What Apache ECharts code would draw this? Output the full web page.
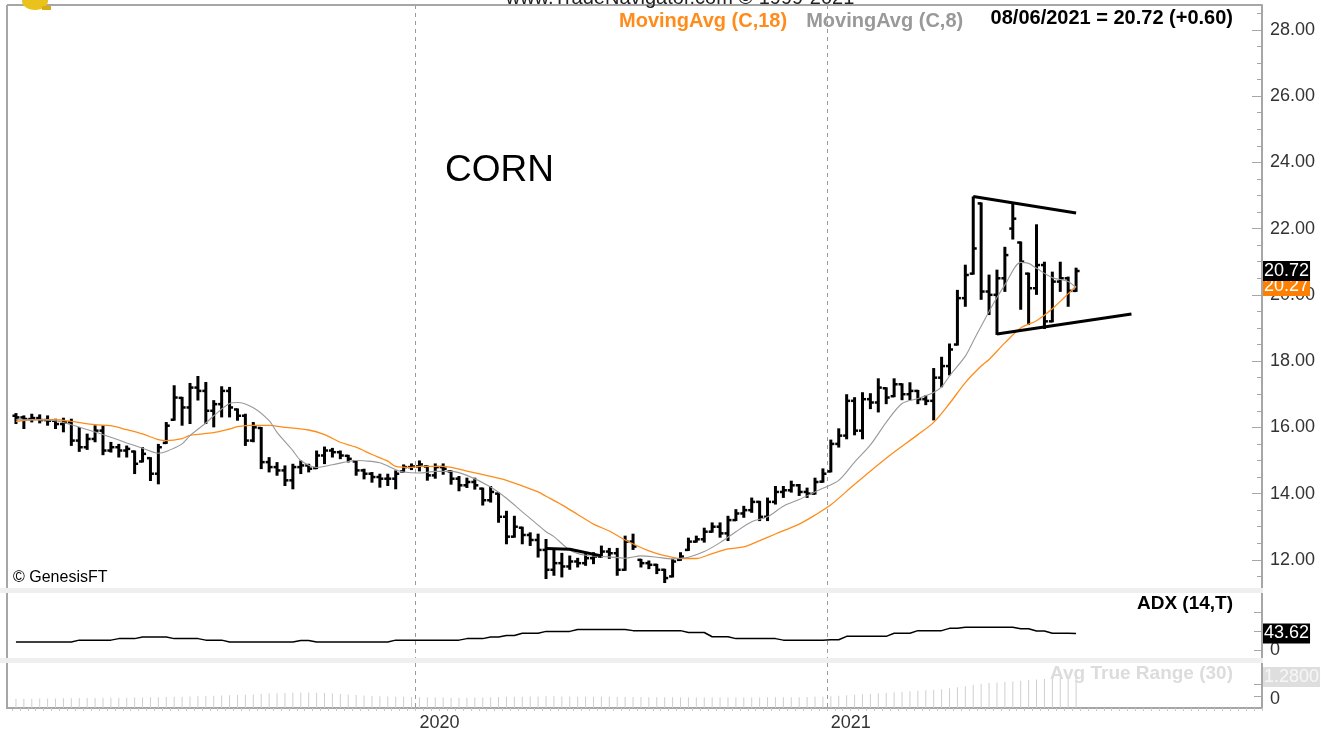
<!DOCTYPE html>
<html>
<head>
<meta charset="utf-8">
<script src="https://cdn.jsdelivr.net/npm/echarts@6/dist/echarts.min.js"></script>
<style>
html, body { margin: 0; padding: 0; background: #fff; }
#cornChart { width: 1338px; height: 738px; }
</style>
</head>
<body>
<div id="cornChart"></div>
<script>
// weekly bars, first week ending 2019-01-11
const firstWeek = '2019-01-11'
const weekCount = 158 // axis runs a few months past the last bar
const yearLabels = ['2020', '2021']
const priceTicks = [12, 14, 16, 18, 20, 22, 24, 26, 28]

// [open, high, low, close]
const ohlc = [
	[16.35,16.40,16.13,16.30],[16.30,16.33,15.98,16.25],[16.25,16.38,16.18,16.28],[16.28,16.36,16.15,16.22],
	[16.22,16.33,16.08,16.20],[16.20,16.23,15.98,16.10],[16.10,16.26,15.88,16.15],[16.15,16.23,15.47,15.60],
	[15.60,15.98,15.29,15.40],[15.40,15.78,15.35,15.65],[15.65,16.03,15.58,15.90],[15.90,16.03,15.19,15.30],
	[15.30,15.53,15.27,15.40],[15.40,15.47,15.12,15.30],[15.30,15.42,15.12,15.35],[15.27,15.27,14.62,14.90],
	[14.97,15.37,14.97,15.20],[15.07,15.07,14.41,14.60],[14.60,15.47,14.31,15.40],[15.53,16.13,15.53,16.05],
	[16.23,17.24,16.23,16.90],[16.89,16.89,16.08,16.60],[16.60,17.31,16.13,17.20],[17.20,17.52,16.84,17.10],
	[17.10,17.34,16.13,16.50],[16.50,16.79,16.03,16.70],[16.70,17.21,16.33,17.10],[17.10,17.19,16.33,16.60],
	[16.54,16.54,16.23,16.35],[16.35,16.38,15.47,15.60],[15.60,16.13,15.58,16.00],[15.98,15.98,14.77,14.95],
	[14.95,15.07,14.67,14.80],[14.80,14.92,14.57,14.70],[14.70,14.82,14.26,14.40],[14.40,14.87,14.16,14.80],
	[14.80,14.97,14.62,14.85],[14.85,14.87,14.67,14.75],[14.77,15.27,14.77,15.15],[15.15,15.39,14.92,15.30],
	[15.30,15.35,15.12,15.25],[15.25,15.27,15.07,15.15],[15.14,15.14,14.97,15.05],[14.97,14.97,14.57,14.70],
	[14.70,14.72,14.46,14.60],[14.60,14.62,14.36,14.50],[14.50,14.57,14.21,14.45],[14.45,14.57,14.26,14.45],
	[14.45,14.67,14.16,14.60],[14.67,14.85,14.67,14.80],[14.80,14.88,14.74,14.82],[14.82,14.97,14.70,14.88],
	[14.82,14.82,14.42,14.55],[14.55,14.88,14.48,14.80],[14.80,14.88,14.60,14.75],[14.67,14.67,14.30,14.45],
	[14.45,14.50,14.10,14.25],[14.25,14.45,14.20,14.35],[14.35,14.45,14.15,14.25],[14.15,14.15,13.67,13.80],
	[13.80,14.20,13.76,14.05],[14.00,14.00,13.15,13.30],[13.30,13.45,12.50,12.70],[12.70,13.30,12.70,13.00],
	[12.97,12.97,12.50,12.75],[12.75,12.80,12.45,12.60],[12.60,12.76,12.10,12.30],[12.30,12.60,11.45,11.70],
	[11.70,12.30,11.55,11.90],[11.90,12.18,11.50,11.80],[11.80,12.10,11.73,11.95],[11.95,12.03,11.80,11.90],
	[11.90,12.18,11.85,12.05],[12.05,12.20,11.90,12.10],[12.10,12.40,12.10,12.25],[12.25,12.33,12.06,12.20],
	[12.20,12.33,11.55,11.70],[11.70,12.70,11.70,12.55],[12.55,12.76,12.33,12.40],[12.00,12.00,11.80,11.90],
	[11.90,11.95,11.75,11.85],[11.85,11.85,11.60,11.70],[11.70,11.70,11.33,11.45],[11.50,12.00,11.50,11.95],
	[12.00,12.20,12.00,12.10],[12.30,12.64,12.30,12.55],[12.55,12.70,12.55,12.62],[12.62,12.94,12.55,12.85],
	[12.85,13.10,12.85,13.00],[13.00,13.10,12.70,12.80],[12.80,13.30,12.60,13.20],[13.20,13.50,13.20,13.40],
	[13.40,13.60,13.30,13.50],[13.50,13.85,13.45,13.75],[13.75,13.75,13.20,13.30],[13.30,13.85,13.20,13.75],
	[13.75,14.20,13.70,14.05],[14.05,14.20,13.90,14.10],[14.10,14.36,14.06,14.25],[14.25,14.26,13.96,14.05],
	[14.05,14.15,13.90,14.00],[14.00,14.45,14.00,14.35],[14.36,14.73,14.36,14.60],[14.67,15.60,14.67,15.50],
	[15.50,15.94,15.42,15.75],[15.75,16.97,15.67,16.80],[16.80,16.88,15.79,15.90],[15.90,17.03,15.67,16.85],
	[16.85,17.00,16.58,16.75],[16.75,17.45,16.48,17.20],[17.18,17.18,16.73,16.90],[16.94,17.45,16.94,17.30],
	[17.30,17.30,16.85,17.00],[17.00,17.33,16.85,17.10],[17.10,17.10,16.73,16.85],[16.85,16.94,16.70,16.80],
	[16.80,17.76,16.24,17.50],[17.50,18.10,17.24,17.85],[17.85,18.50,17.60,18.35],[18.50,20.12,18.50,19.90],
	[19.90,20.88,19.67,20.60],[20.64,22.94,20.64,21.40],[22.76,22.76,19.88,20.10],[20.10,20.58,19.42,20.00],
	[20.00,20.73,18.82,20.50],[20.50,21.42,20.12,21.20],[22.00,22.76,21.70,22.30],[21.58,21.58,19.58,21.00],
	[20.64,20.64,19.12,20.20],[20.20,22.10,20.03,20.90],[20.90,20.97,19.00,19.20],[19.20,20.67,19.20,20.40],
	[20.40,20.97,20.12,20.50],[20.50,20.52,19.67,20.12],[20.12,20.79,20.12,20.72]
]

// moving averages: [week index, value]
const ma18 = [
	[0,16.18],[2,16.23],[5,16.23],[7,16.18],[10,16.08],[12,16.05],[14,15.93],[16,15.80],[18,15.63],[19,15.60],
	[21,15.66],[22,15.76],[25,15.84],[27,15.95],[28,16.02],[30,16.06],[32,16.06],[34,16.00],[37,15.92],[39,15.78],
	[41,15.55],[43,15.40],[45,15.18],[47,14.98],[48,14.82],[50,14.79],[51,14.82],[54,14.82],[57,14.68],[60,14.52],
	[62,14.40],[66,14.05],[67,13.92],[69,13.66],[71,13.37],[73,13.08],[75,12.87],[77,12.60],[80,12.27],[82,12.13],
	[84,12.04],[86,12.04],[88,12.19],[90,12.33],[92,12.39],[94,12.58],[96,12.78],[99,13.08],[101,13.35],[103,13.66],
	[106,14.28],[110,15.07],[114,15.78],[116,16.15],[118,16.72],[120,17.35],[122,17.85],[123,18.05],[125,18.55],
	[127,19.00],[129,19.22],[131,19.58],[134,20.27]
]
const ma8 = [
	[0,16.23],[2,16.23],[5,16.20],[7,16.08],[10,15.86],[12,15.70],[14,15.53],[16,15.37],[18,15.22],[19,15.27],
	[21,15.50],[22,15.75],[24,16.13],[25,16.35],[27,16.72],[28,16.75],[30,16.59],[32,16.20],[33,15.85],[35,15.30],
	[36,15.00],[38,14.79],[40,14.87],[43,15.00],[44,14.99],[46,14.93],[48,14.72],[49,14.65],[51,14.62],[53,14.67],
	[55,14.67],[57,14.55],[60,14.20],[62,13.86],[64,13.45],[66,13.05],[67,12.85],[68,12.70],[70,12.30],[72,12.14],
	[75,12.09],[77,12.05],[79,12.12],[81,12.08],[83,12.03],[85,12.08],[87,12.25],[89,12.52],[91,12.85],[93,13.15],
	[95,13.30],[97,13.62],[99,13.82],[101,14.05],[102,14.16],[104,14.40],[106,14.95],[108,15.47],[110,16.15],
	[112,16.72],[114,16.87],[116,17.05],[117,17.22],[118,17.55],[120,18.15],[121,18.60],[123,19.50],[124,19.92],
	[125,20.30],[127,20.98],[128,20.95],[129,20.80],[131,20.52],[133,20.40],[134,20.20]
]

const adx = [
	21,21,21,21,21,21,21,21,26,26,26,26,26,30,30,30,34,34,34,34,
	30,30,30,30,26,26,26,21,21,21,21,21,21,21,21,21,25,25,21,21,
	21,21,21,21,21,21,21,21,26,26,26,26,26,26,26,26,26,30,30,30,
	34,34,38,38,44,44,44,49,49,49,49,54,54,54,54,54,54,54,51,51,
	51,51,51,51,51,46,46,46,35,35,35,30,30,30,30,30,30,26,26,26,
	26,26,26,27,27,36,36,36,36,36,36,44,44,44,51,51,51,51,57,57,
	60,60,60,60,60,60,60,56,56,50,50,44,44,44,43.62
]

const atr = [
	0.38,0.38,0.38,0.39,0.39,0.39,0.40,0.40,0.41,0.41,0.41,0.42,0.42,0.42,0.42,0.43,0.43,0.44,0.44,0.45,
	0.46,0.47,0.48,0.49,0.50,0.51,0.52,0.53,0.54,0.55,0.56,0.58,0.60,0.61,0.62,0.63,0.64,0.64,0.63,0.62,
	0.60,0.58,0.56,0.54,0.52,0.50,0.49,0.48,0.47,0.46,0.45,0.44,0.44,0.43,0.43,0.42,0.42,0.42,0.43,0.43,
	0.44,0.45,0.46,0.47,0.47,0.48,0.48,0.49,0.49,0.48,0.48,0.47,0.47,0.46,0.46,0.46,0.45,0.45,0.45,0.45,
	0.44,0.44,0.44,0.44,0.43,0.43,0.43,0.43,0.43,0.43,0.43,0.43,0.43,0.43,0.43,0.44,0.44,0.44,0.44,0.44,
	0.45,0.46,0.47,0.49,0.51,0.53,0.55,0.57,0.59,0.61,0.63,0.65,0.67,0.69,0.71,0.73,0.75,0.78,0.82,0.86,
	0.90,0.95,1.00,1.03,1.05,1.08,1.10,1.13,1.16,1.18,1.20,1.22,1.24,1.26,1.28
]

// hand drawn trend lines on the chart
const flagLine = [[67,12.34],[70,12.32],[74,12.12]]
const pennantTop = [[121,22.97],[134,22.47]]
const pennantBottom = [[124,18.82],[141,19.42]]

const font = "'Liberation Sans', Arial, sans-serif"

const weeks = []
const start = new Date(firstWeek + 'T00:00:00Z').getTime()
for (let i = 0; i < weekCount; i++) {
	weeks.push(new Date(start + i * 7 * 86400000).toISOString().slice(0, 10))
}
// first week of each labelled year
const yearStart = weeks.map((w, i) =>
	i > 0 && yearLabels.includes(w.slice(0, 4)) && w.slice(0, 4) !== weeks[i - 1].slice(0, 4))
const isYearStart = (i) => yearStart[i]

const last = ohlc.length - 1
const lastClose = ohlc[last][3]
const change = lastClose - ohlc[last - 1][3]
const lastDate = weeks[last]
const dateText = lastDate.slice(5, 7) + '/' + lastDate.slice(8, 10) + '/' + lastDate.slice(0, 4)

const minorTicks = []
for (let v = 11.5; v <= 28.5; v += 0.5) minorTicks.push(v)

function renderOHLC(params, api) {
	const i = api.value(0)
	const o = api.coord([i, api.value(1)])
	const h = api.coord([i, api.value(2)])
	const l = api.coord([i, api.value(3)])
	const c = api.coord([i, api.value(4)])
	const t = 3.5
	return {
		type: 'group',
		children: [
			{ type: 'line', shape: { x1: h[0], y1: h[1] - 1, x2: l[0], y2: l[1] + 1 }, style: { stroke: '#000', lineWidth: 3 } },
			{ type: 'line', shape: { x1: o[0] - t, y1: o[1], x2: o[0], y2: o[1] }, style: { stroke: '#000', lineWidth: 2.5 } },
			{ type: 'line', shape: { x1: c[0], y1: c[1], x2: c[0] + t, y2: c[1] }, style: { stroke: '#000', lineWidth: 2.5 } },
		],
	}
}

function valueTag(value, text, bg, fg) {
	return {
		silent: true,
		symbol: ['none', 'none'],
		lineStyle: { color: 'rgba(0,0,0,0)', width: 1, type: 'solid' },
		data: [{ yAxis: value }],
		label: {
			show: true,
			position: 'end',
			distance: 1,
			formatter: text,
			backgroundColor: bg,
			color: fg,
			fontFamily: font,
			fontSize: 18,
			padding: [2, 1, 0, 1],
		},
	}
}

const frameColor = '#a6a6a6'
const grids = [
	{ left: 12, right: 76, top: 5, height: 583 },
	{ left: 12, right: 76, top: 593, height: 65 },
	{ left: 12, right: 76, top: 663, height: 45 },
]

function xAxisFor(gridIndex, showLabels) {
	return {
		type: 'category',
		gridIndex: gridIndex,
		data: weeks,
		boundaryGap: true,
		axisLine: { show: showLabels, lineStyle: { color: frameColor, width: 2 } },
		axisTick: { show: showLabels, interval: 0, length: 3, lineStyle: { color: '#c8c8c8' } },
		axisLabel: {
			show: showLabels,
			interval: (i) => isYearStart(i),
			formatter: (v) => v.slice(0, 4),
			align: 'left',
			margin: 6,
			color: '#333',
			fontFamily: font,
			fontSize: 18,
		},
		splitLine: {
			show: true,
			interval: (i) => isYearStart(i),
			lineStyle: { color: '#9a9a9a', type: [4, 4], width: 1 },
		},
	}
}

const rightLine = { show: true, lineStyle: { color: frameColor, width: 2 } }

const myCharts = echarts.init(document.getElementById('cornChart'))
const option = {
	animation: false,
	backgroundColor: '#fff',
	grid: grids,
	legend: {
		left: 609,
		top: 6,
		icon: 'none',
		itemWidth: 0,
		itemGap: 14,
		selectedMode: false,
		textStyle: { fontFamily: font, fontSize: 20, fontWeight: 'bold' },
		data: [
			{ name: 'MovingAvg (C,18)', textStyle: { color: '#ff8c1a' } },
			{ name: 'MovingAvg (C,8)', textStyle: { color: '#999' } },
		],
	},
	xAxis: [xAxisFor(0, false), xAxisFor(1, false), xAxisFor(2, true)],
	yAxis: [
		{
			type: 'value', gridIndex: 0, position: 'right', min: 11.15, max: 28.75,
			axisLine: rightLine,
			axisTick: { show: true, inside: true, length: 10, customValues: priceTicks, lineStyle: { color: frameColor } },
			axisLabel: {
				customValues: priceTicks, formatter: (v) => v.toFixed(2),
				color: '#333', fontFamily: font, fontSize: 18, margin: 8,
			},
			splitLine: { show: false },
		},
		{
			type: 'value', gridIndex: 0, position: 'right', min: 11.15, max: 28.75,
			axisLine: { show: false },
			axisTick: { show: true, inside: true, length: 5, customValues: minorTicks, lineStyle: { color: frameColor } },
			axisLabel: { show: false },
			splitLine: { show: false },
		},
		{
			type: 'value', gridIndex: 1, position: 'right', min: -21, max: 150,
			axisLine: rightLine,
			axisTick: { show: true, inside: true, length: 8, customValues: [0, 50, 100], lineStyle: { color: frameColor } },
			axisLabel: { customValues: [0], color: '#333', fontFamily: font, fontSize: 18, margin: 8 },
			splitLine: { show: false },
		},
		{
			type: 'value', gridIndex: 2, position: 'right', min: 0, max: 1.86,
			axisLine: rightLine,
			axisTick: { show: true, inside: true, length: 8, customValues: [0.5, 1.0], lineStyle: { color: frameColor } },
			axisLabel: {
				customValues: [0], verticalAlign: 'bottom',
				color: '#333', fontFamily: font, fontSize: 18, margin: 8,
			},
			splitLine: { show: false },
		},
	],
	series: [
		{
			name: 'ATR',
			type: 'bar',
			xAxisIndex: 2,
			yAxisIndex: 3,
			barWidth: 1,
			itemStyle: { color: '#cfcfcf' },
			data: atr,
			markLine: valueTag(atr[atr.length - 1], atr[atr.length - 1].toFixed(4), '#dedede', '#f7f7f7'),
		},
		{
			name: 'ADX',
			type: 'line',
			xAxisIndex: 1,
			yAxisIndex: 2,
			showSymbol: false,
			lineStyle: { color: '#000', width: 1.5 },
			data: adx,
			markLine: valueTag(adx[adx.length - 1], adx[adx.length - 1].toFixed(2), '#000', '#fff'),
		},
		{
			name: 'CORN',
			type: 'custom',
			xAxisIndex: 0,
			yAxisIndex: 0,
			renderItem: renderOHLC,
			encode: { x: 0, y: [1, 2, 3, 4] },
			clip: true,
			data: ohlc.map((d, i) => [i, d[0], d[1], d[2], d[3]]),
			z: 3,
		},
		{
			name: 'MovingAvg (C,18)',
			type: 'line',
			xAxisIndex: 0,
			yAxisIndex: 0,
			showSymbol: false,
			smooth: 0.3,
			lineStyle: { color: '#ff8c1a', width: 1.3 },
			itemStyle: { color: '#ff8c1a' },
			data: ma18,
			z: 4,
			markLine: valueTag(ma18[ma18.length - 1][1], ma18[ma18.length - 1][1].toFixed(2), '#ff8000', '#fff'),
		},
		{
			name: 'MovingAvg (C,8)',
			type: 'line',
			xAxisIndex: 0,
			yAxisIndex: 0,
			showSymbol: false,
			smooth: 0.3,
			lineStyle: { color: '#999', width: 1.1 },
			itemStyle: { color: '#999' },
			data: ma8,
			z: 5,
			markLine: valueTag(lastClose, lastClose.toFixed(2), '#000', '#fff'),
		},
		{
			type: 'line', xAxisIndex: 0, yAxisIndex: 0, showSymbol: false, z: 6,
			lineStyle: { color: '#000', width: 3 }, data: flagLine,
		},
		{
			type: 'line', xAxisIndex: 0, yAxisIndex: 0, showSymbol: false, z: 6,
			lineStyle: { color: '#000', width: 3 }, data: pennantTop,
		},
		{
			type: 'line', xAxisIndex: 0, yAxisIndex: 0, showSymbol: false, z: 6,
			lineStyle: { color: '#000', width: 3 }, data: pennantBottom,
		},
	],
	graphic: [
		// panel separators and left/top frame
		{ type: 'rect', shape: { x: 0, y: 588, width: 1263, height: 5 }, style: { fill: '#efefef' }, z: 10 },
		{ type: 'rect', shape: { x: 0, y: 658, width: 1263, height: 5 }, style: { fill: '#efefef' }, z: 10 },
		{ type: 'line', shape: { x1: 7, y1: 5, x2: 1262, y2: 5 }, style: { stroke: frameColor, lineWidth: 2 }, z: 10 },
		{ type: 'line', shape: { x1: 7, y1: 5, x2: 7, y2: 588 }, style: { stroke: frameColor, lineWidth: 2 }, z: 10 },
		{ type: 'line', shape: { x1: 7, y1: 593, x2: 7, y2: 658 }, style: { stroke: frameColor, lineWidth: 2 }, z: 10 },
		{ type: 'line', shape: { x1: 7, y1: 663, x2: 7, y2: 709 }, style: { stroke: frameColor, lineWidth: 2 }, z: 10 },
		{ type: 'line', shape: { x1: 7, y1: 708, x2: 13, y2: 708 }, style: { stroke: frameColor, lineWidth: 2 }, z: 10 },
		// logo corner
		{ type: 'ellipse', shape: { cx: 35, cy: 1, rx: 13, ry: 9 }, style: { fill: '#e9c21c' }, z: 11 },
		{ type: 'rect', shape: { x: 42, y: 6, width: 9, height: 4 }, style: { fill: '#d9ad12' }, z: 11 },
		{
			type: 'text', x: 680, y: -12, z: 11,
			style: { text: 'www.TradeNavigator.com © 1999-2021', font: '20px ' + font, fill: '#222', align: 'center', verticalAlign: 'top' },
		},
		{
			type: 'text', x: 1233, y: 18, z: 11,
			style: {
				text: dateText + ' = ' + lastClose.toFixed(2) + ' (' + (change >= 0 ? '+' : '') + change.toFixed(2) + ')',
				font: 'bold 20px ' + font, fill: '#000', align: 'right', verticalAlign: 'middle',
			},
		},
		{
			type: 'text', x: 445, y: 171, z: 11,
			style: { text: 'CORN', font: '37px ' + font, fill: '#000', align: 'left', verticalAlign: 'middle' },
		},
		{
			type: 'text', x: 13, y: 578, z: 11,
			style: { text: '© GenesisFT', font: '16px ' + font, fill: '#000', align: 'left', verticalAlign: 'middle' },
		},
		{
			type: 'text', x: 1233, y: 604, z: 11,
			style: { text: 'ADX (14,T)', font: 'bold 19px ' + font, fill: '#000', align: 'right', verticalAlign: 'middle' },
		},
		{
			type: 'text', x: 1233, y: 674, z: 11,
			style: { text: 'Avg True Range (30)', font: 'bold 19px ' + font, fill: '#dcdcdc', align: 'right', verticalAlign: 'middle' },
		},
	],
}
myCharts.setOption(option)
</script>
</body>
</html>
